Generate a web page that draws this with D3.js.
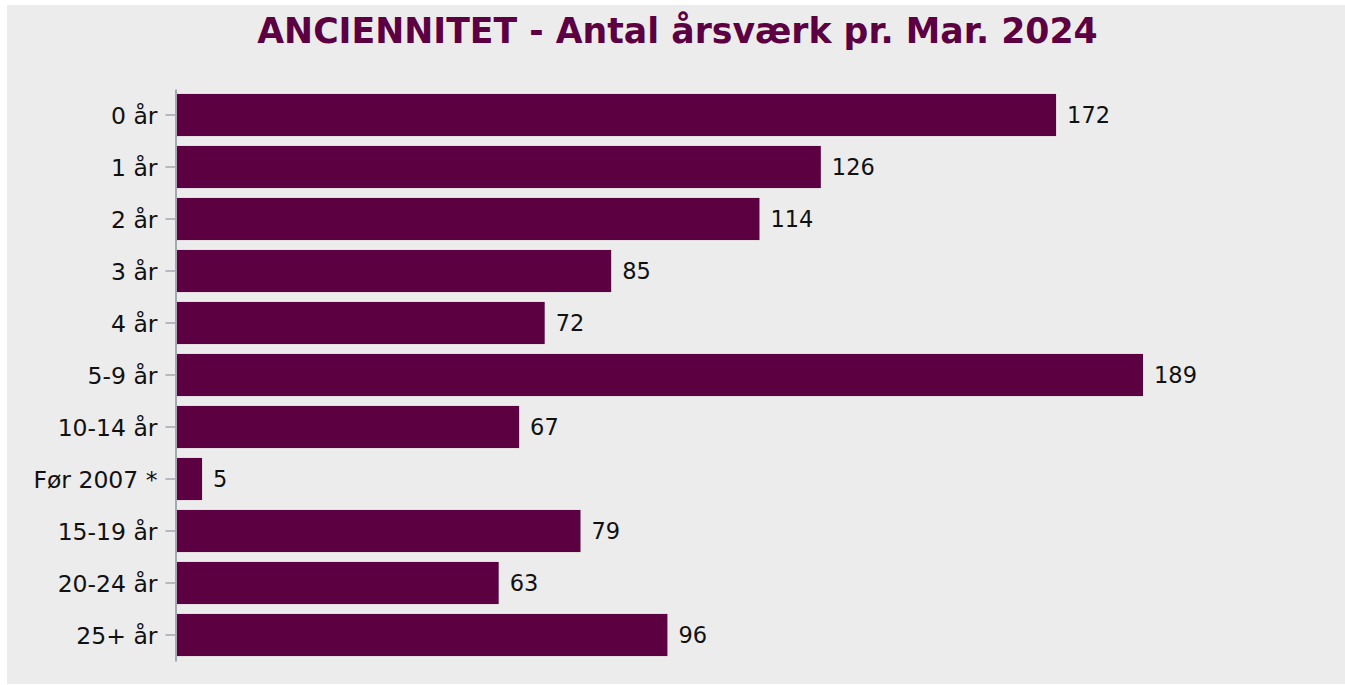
<!DOCTYPE html>
<html><head><meta charset="utf-8">
<script src="https://cdn.jsdelivr.net/npm/d3@7"></script>
<style>body{margin:0;background:#fff;} svg{display:block;}</style>
</head><body>
<svg id="c" width="1345" height="685"></svg>
<script>
const categories = ["0 år","1 år","2 år","3 år","4 år","5-9 år","10-14 år","Før 2007 *","15-19 år","20-24 år","25+ år"];
const values = [172,126,114,85,72,189,67,5,79,63,96];
const title = "ANCIENNITET - Antal årsværk pr. Mar. 2024";

const svg = d3.select("#c");
const W = 1345, H = 685;
const purple = "#5c0042";
const font = "DejaVu Sans, Verdana, sans-serif";
svg.append("rect").attr("x",7).attr("y",5).attr("width",W-7).attr("height",679).attr("fill","#ececec");

svg.append("text").attr("x",677.5).attr("y",43).attr("text-anchor","middle")
  .attr("font-family",font).attr("font-weight","bold")
  .attr("font-size",34.7).attr("fill",purple).text(title);

const x0 = 176.5;
const x = d3.scaleLinear().domain([0,189]).range([x0,1143]);
const y = d3.scaleBand().domain(categories).range([89,661]).paddingInner(0.19).paddingOuter(0.095);

const g = svg.append("g");
g.selectAll("rect.bar").data(values).join("rect").attr("class","bar")
  .attr("x",x(0)).attr("y",(d,i)=>y(categories[i]))
  .attr("width",d=>x(d)-x(0)).attr("height",y.bandwidth()).attr("fill",purple);

g.selectAll("text.lbl").data(values).join("text").attr("class","lbl")
  .attr("x",d=>x(d)+11).attr("y",(d,i)=>y(categories[i])+y.bandwidth()/2)
  .attr("dy","0.37em").attr("font-family",font)
  .attr("font-size",22.5).attr("fill","#111").text(d=>d);

const ax = svg.append("g").attr("transform",`translate(${x0-1},0)`)
  .call(d3.axisLeft(y).tickSize(10).tickPadding(8).tickSizeOuter(0));
ax.select(".domain").attr("stroke","#a3a9b0").attr("stroke-width",2);
ax.selectAll(".tick line").attr("stroke","#a3a9b0").attr("stroke-width",1.5);
ax.selectAll(".tick text").attr("font-family",font)
  .attr("font-size",23.5).attr("fill","#111").attr("dy","0.37em");
</script>
</body></html>
